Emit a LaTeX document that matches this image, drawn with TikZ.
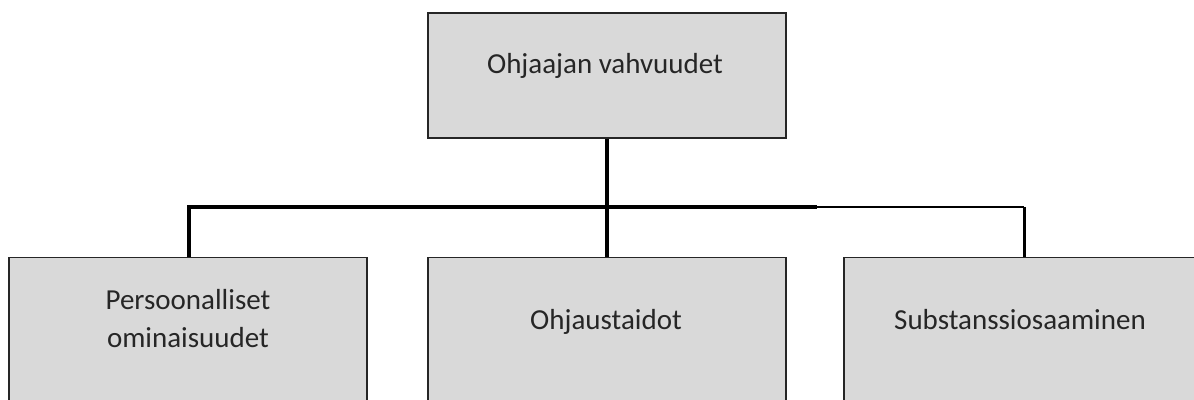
\documentclass[tikz,border=0pt]{standalone}
\usepackage{fontspec}
\setmainfont{Carlito}
\definecolor{boxfill}{HTML}{D9D9D9}
\definecolor{boxtext}{HTML}{262626}
\begin{document}
\begin{tikzpicture}[x=1pt,y=-1pt,
  orgbox/.style={draw=black!85,line width=1.3pt,fill=boxfill,rectangle,
    minimum width=358pt,inner sep=0pt},
  label text/.style={text=boxtext,anchor=base,inner sep=0pt,
    font=\fontsize{29}{38}\selectfont,align=center},
  link/.style={draw=black,line width=3.6pt},
  thinlink/.style={draw=black,line width=2.2pt}]
\useasboundingbox (0,0) rectangle (1194,399);
\clip (0,0) rectangle (1194,399);
\fill[white] (0,0) rectangle (1194,399);

% top box
\node[orgbox,minimum height=125pt] (top) at (607,75.5) {};
\node[label text] (toptxt) at (605,73) {Ohjaajan vahvuudet};

% lower boxes (they run past the lower edge)
\node[orgbox,minimum height=200pt,anchor=north] (left) at (188,257) {};
\node[orgbox,minimum height=200pt,anchor=north] (mid) at (607,257) {};
\node[orgbox,minimum height=200pt,anchor=north] (right) at (1023,257) {};

\node[label text] (lefttxt1) at (188,309) {Persoonalliset};
\node[label text] (lefttxt2) at (188,347) {ominaisuudet};
\node[label text] (midtxt) at (606,329) {Ohjaustaidot};
\node[label text] (righttxt) at (1020,329) {Substanssiosaaminen};

% connectors
\coordinate (bus) at (607,207);
\coordinate (busL) at (189,207);
\coordinate (busR) at (1024,207);
\coordinate (busBreak) at (815,207);
\draw[link] (top.south) -- (bus |- mid.north);
\draw[link,line cap=rect] (busL) -- (busBreak);
\draw[thinlink] (busBreak) -- (busR);
\draw[link] (busL) -- (busL |- left.north);
\draw[thinlink,line width=3pt] (busR) -- (busR |- right.north);
\end{tikzpicture}
\end{document}
